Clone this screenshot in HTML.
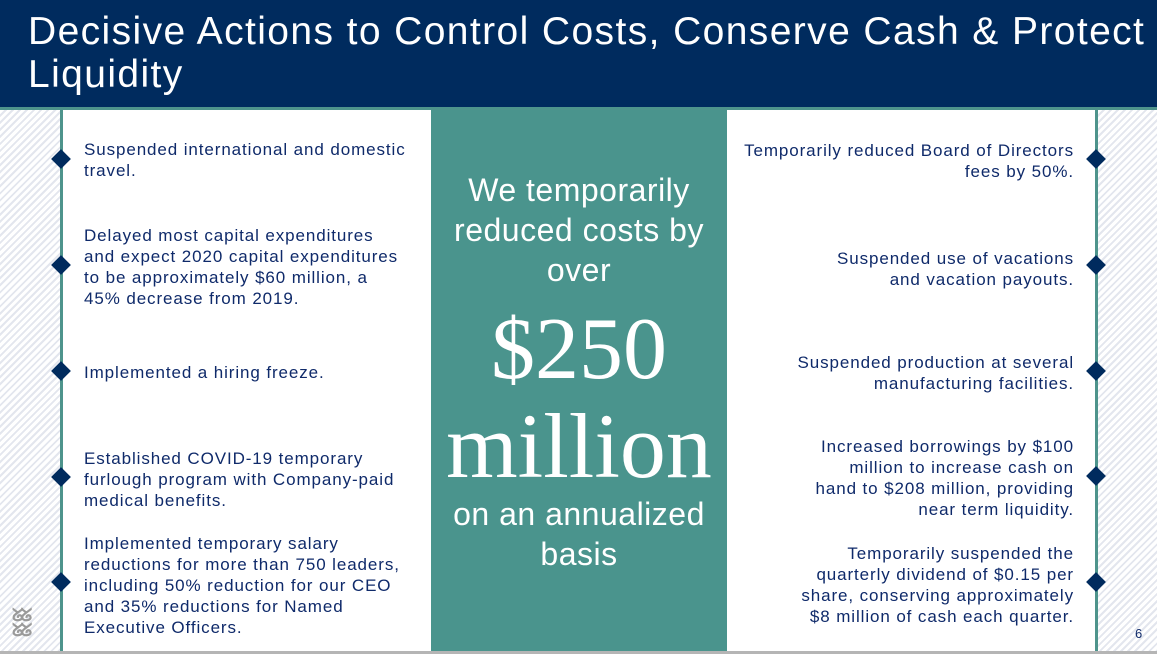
<!DOCTYPE html>
<html><head><style>
body{margin:0;width:1157px;height:654px;overflow:hidden;position:relative;font-family:"Liberation Sans",sans-serif;background:#fff}
.hdr{position:absolute;left:0;top:0;width:1157px;height:107px;background:#002b5e;color:#fff;font-size:39px;line-height:43px;padding:10px 0 0 28px;box-sizing:border-box;white-space:nowrap;letter-spacing:1.4px}
.tl{position:absolute;top:107px;left:0;width:1157px;height:3px;background:#4e948c}
.hatch{position:absolute;top:110px;height:541px;background:repeating-linear-gradient(135deg,#fff 0 3px,#e3e6ee 3px 5px)}
.vl{position:absolute;top:110px;height:541px;width:3px;background:#4e948c}
.mid{position:absolute;left:431px;top:110px;width:296px;height:541px;background:#4a948d;color:#fff;text-align:center}
.t{position:absolute;color:#0f2a6a;font-size:17px;line-height:21px;letter-spacing:0.9px;white-space:nowrap}
.l{left:84px}.r{right:83px;text-align:right}
.d{position:absolute;width:14px;height:14px;background:#002b5e;transform:rotate(45deg)}
.bot{position:absolute;top:651px;left:0;width:1157px;height:3px;background:#b5b5b5}
</style></head><body>
<div class="hdr">Decisive Actions to Control Costs, Conserve Cash &amp; Protect<br>Liquidity</div>
<div class="tl"></div>
<div class="hatch" style="left:0;width:60px"></div>
<div class="hatch" style="left:1098px;width:59px"></div>
<div class="vl" style="left:60px"></div>
<div class="vl" style="left:1095px"></div>
<div class="mid">
<div style="position:absolute;top:60px;width:100%;font-size:32px;line-height:40px;letter-spacing:0.5px">We temporarily<br>reduced costs by<br>over</div>
<div style="position:absolute;top:195px;width:100%;font-family:'Liberation Serif',serif;font-size:88px;line-height:90px">$250</div>
<div style="position:absolute;top:288px;width:100%;font-family:'Liberation Serif',serif;font-size:92px;line-height:96px">million</div>
<div style="position:absolute;top:384px;width:100%;font-size:32px;line-height:40px;letter-spacing:0.5px">on an annualized<br>basis</div>
</div>
<div class="t l" style="top:139px">Suspended international and domestic<br>travel.</div>
<div class="t l" style="top:225px">Delayed most capital expenditures<br>and expect 2020 capital expenditures<br>to be approximately $60 million, a<br>45% decrease from 2019.</div>
<div class="t l" style="top:362px">Implemented a hiring freeze.</div>
<div class="t l" style="top:448px">Established COVID-19 temporary<br>furlough program with Company-paid<br>medical benefits.</div>
<div class="t l" style="top:533px">Implemented temporary salary<br>reductions for more than 750 leaders,<br>including 50% reduction for our CEO<br>and 35% reductions for Named<br>Executive Officers.</div>
<div class="t r" style="top:140px">Temporarily reduced Board of Directors<br>fees by 50%.</div>
<div class="t r" style="top:248px">Suspended use of vacations<br>and vacation payouts.</div>
<div class="t r" style="top:352px">Suspended production at several<br>manufacturing facilities.</div>
<div class="t r" style="top:436px">Increased borrowings by $100<br>million to increase cash on<br>hand to $208 million, providing<br>near term liquidity.</div>
<div class="t r" style="top:543px">Temporarily suspended the<br>quarterly dividend of $0.15 per<br>share, conserving approximately<br>$8 million of cash each quarter.</div>
<div class="d" style="left:54px;top:152px"></div>
<div class="d" style="left:54px;top:258px"></div>
<div class="d" style="left:54px;top:364px"></div>
<div class="d" style="left:54px;top:470px"></div>
<div class="d" style="left:54px;top:575px"></div>
<div class="d" style="left:1089px;top:152px"></div>
<div class="d" style="left:1089px;top:258px"></div>
<div class="d" style="left:1089px;top:364px"></div>
<div class="d" style="left:1089px;top:469px"></div>
<div class="d" style="left:1089px;top:575px"></div>
<div style="position:absolute;left:12px;top:608px;color:#9a9a9a;font-size:18px;font-weight:bold;line-height:15px;letter-spacing:-3px">ᘜᘜ<br>ᘜᘜ</div>
<div style="position:absolute;left:1135px;top:626px;font-size:13px;color:#0f2a6a">6</div>
<div class="bot"></div>
</body></html>
